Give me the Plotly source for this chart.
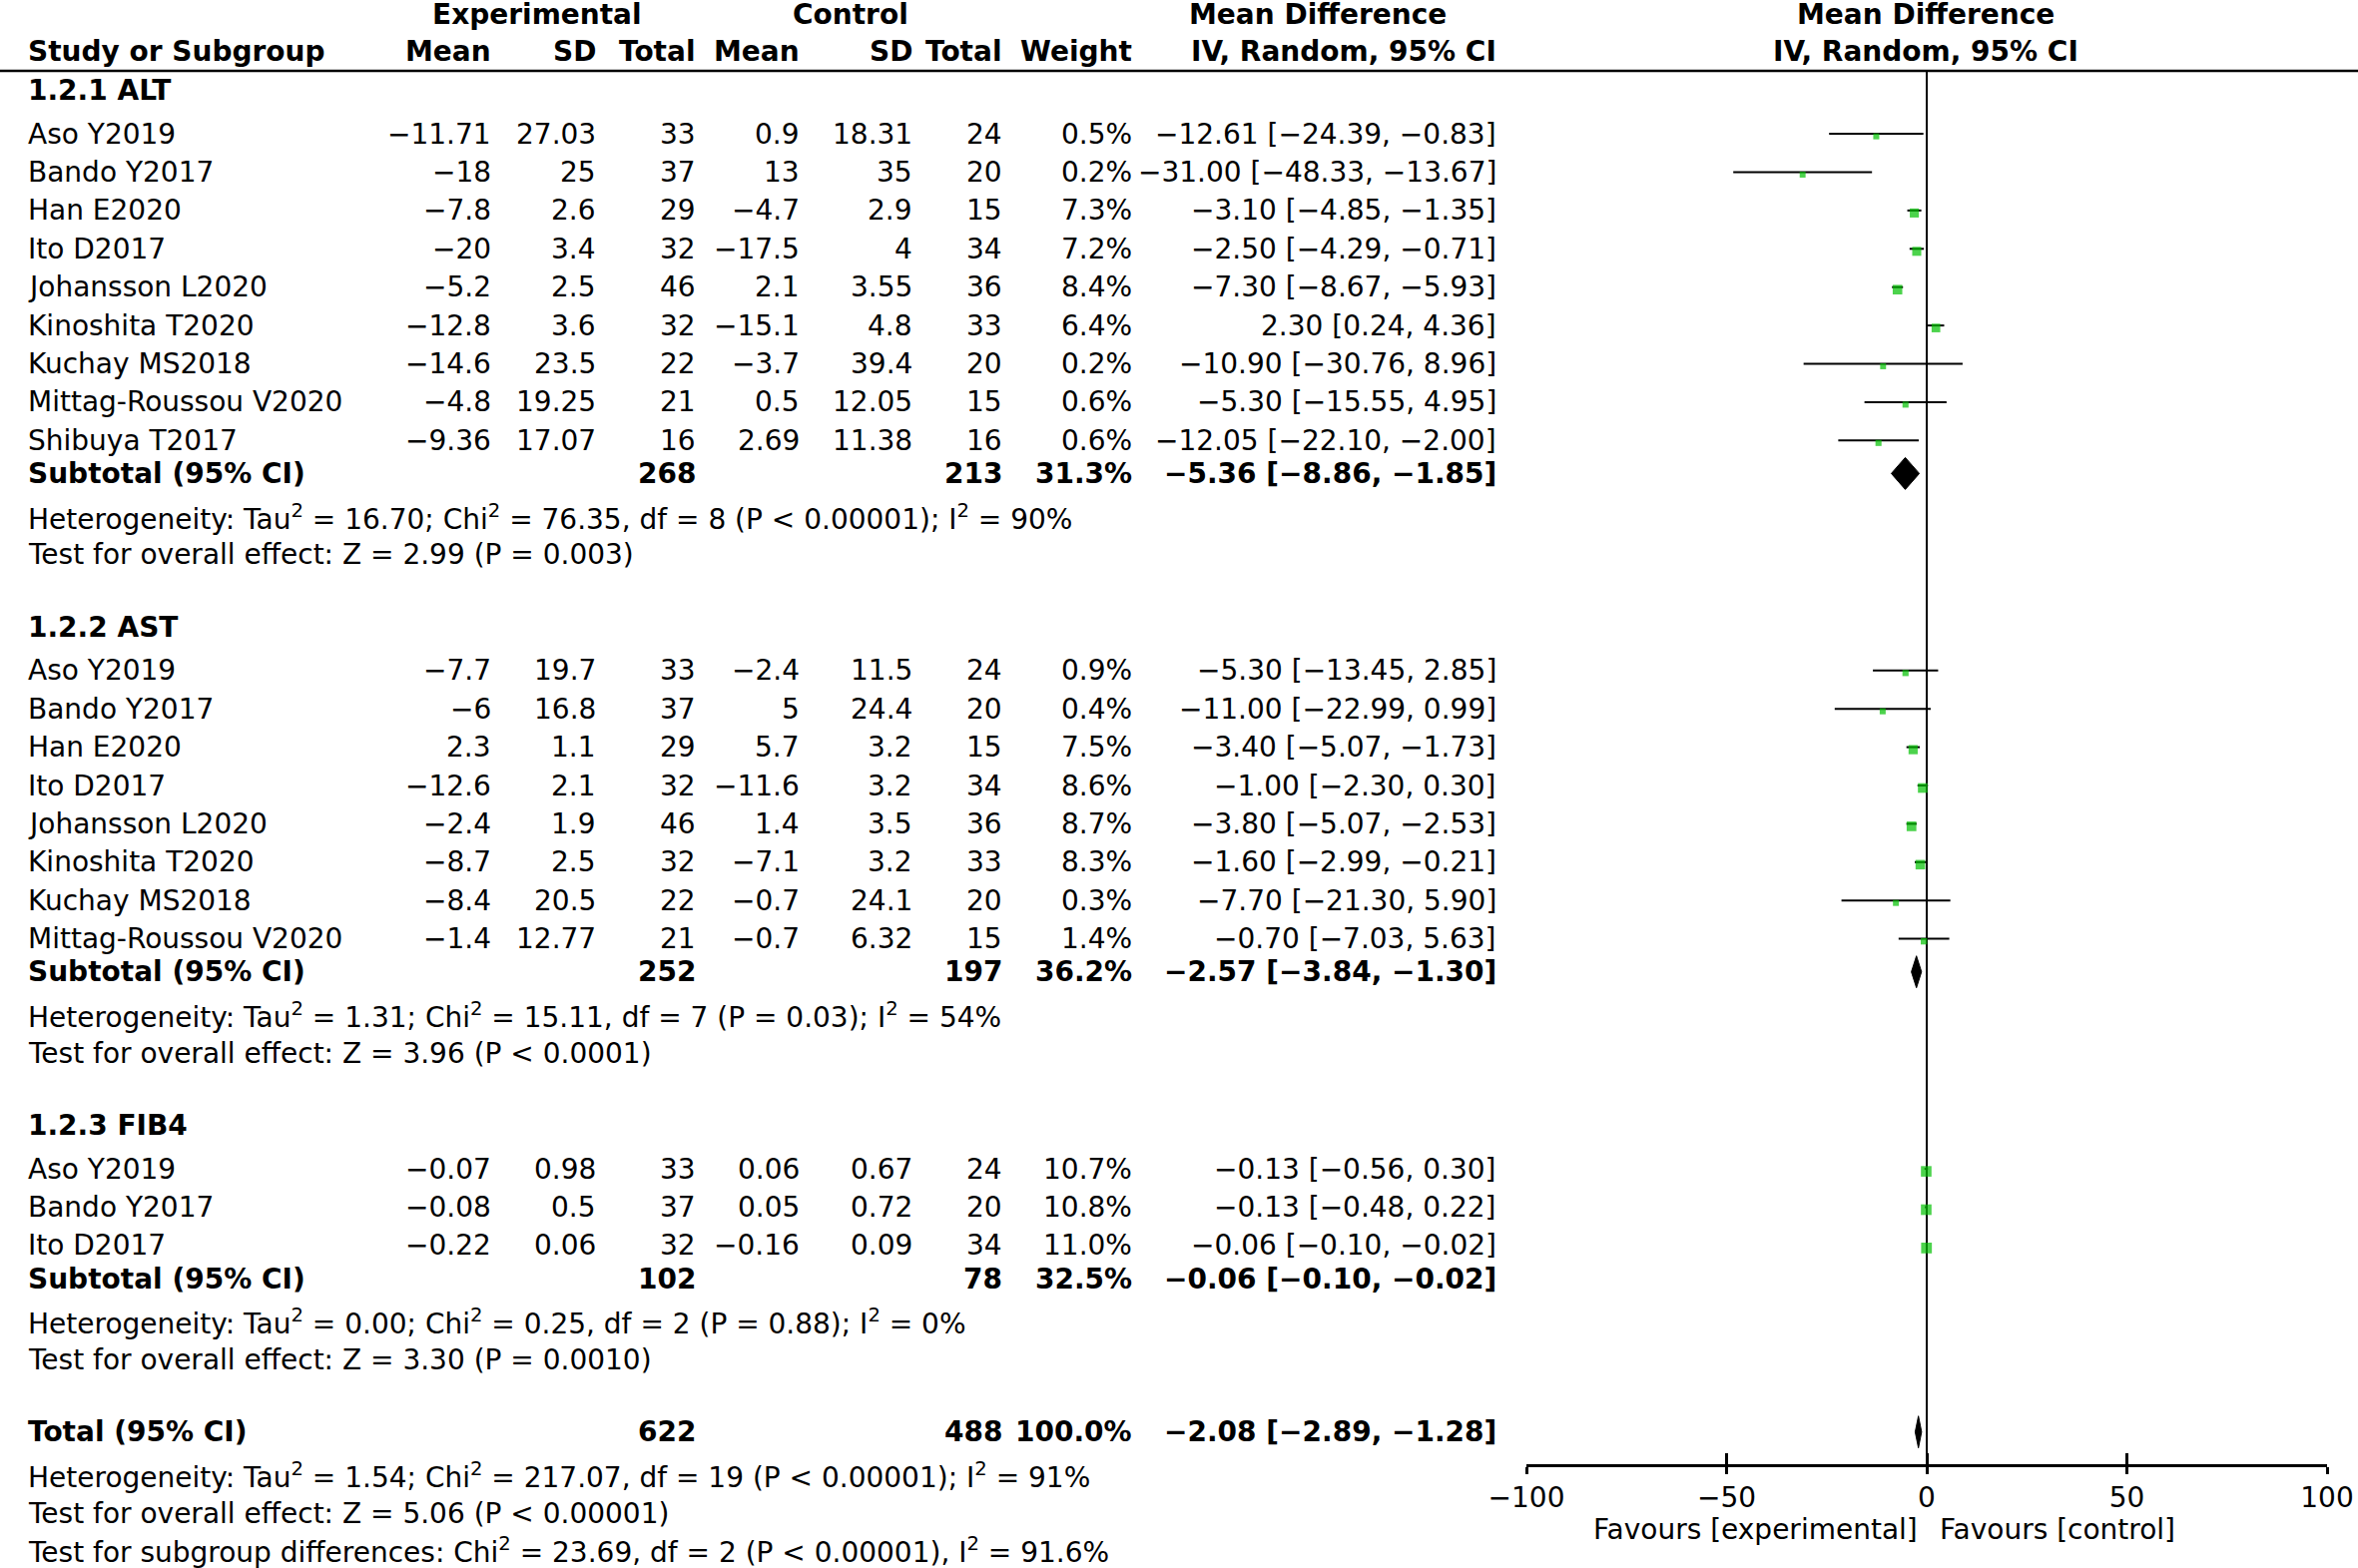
import plotly.graph_objects as go

# ---------------- data ----------------
ALT_STUDY = ["Aso Y2019", "Bando Y2017", "Han E2020", "Ito D2017", "Johansson L2020",
             "Kinoshita T2020", "Kuchay MS2018", "Mittag-Roussou V2020", "Shibuya T2017"]
ALT_EXP_MEAN = [-11.71, -18, -7.8, -20, -5.2, -12.8, -14.6, -4.8, -9.36]
ALT_EXP_SD = [27.03, 25, 2.6, 3.4, 2.5, 3.6, 23.5, 19.25, 17.07]
ALT_EXP_N = [33, 37, 29, 32, 46, 32, 22, 21, 16]
ALT_CTL_MEAN = [0.9, 13, -4.7, -17.5, 2.1, -15.1, -3.7, 0.5, 2.69]
ALT_CTL_SD = [18.31, 35, 2.9, 4, 3.55, 4.8, 39.4, 12.05, 11.38]
ALT_CTL_N = [24, 20, 15, 34, 36, 33, 20, 15, 16]
ALT_WEIGHT = [0.5, 0.2, 7.3, 7.2, 8.4, 6.4, 0.2, 0.6, 0.6]
ALT_MD = [-12.61, -31.00, -3.10, -2.50, -7.30, 2.30, -10.90, -5.30, -12.05]
ALT_LO = [-24.39, -48.33, -4.85, -4.29, -8.67, 0.24, -30.76, -15.55, -22.10]
ALT_HI = [-0.83, -13.67, -1.35, -0.71, -5.93, 4.36, 8.96, 4.95, -2.00]
ALT_SUB = [268, 213, 31.3, -5.36, -8.86, -1.85]
ALT_HET = "Heterogeneity: Tau<sup>2</sup> = 16.70; Chi<sup>2</sup> = 76.35, df = 8 (P < 0.00001); I<sup>2</sup> = 90%"
ALT_TEST = "Test for overall effect: Z = 2.99 (P = 0.003)"

AST_STUDY = ["Aso Y2019", "Bando Y2017", "Han E2020", "Ito D2017", "Johansson L2020",
             "Kinoshita T2020", "Kuchay MS2018", "Mittag-Roussou V2020"]
AST_EXP_MEAN = [-7.7, -6, 2.3, -12.6, -2.4, -8.7, -8.4, -1.4]
AST_EXP_SD = [19.7, 16.8, 1.1, 2.1, 1.9, 2.5, 20.5, 12.77]
AST_EXP_N = [33, 37, 29, 32, 46, 32, 22, 21]
AST_CTL_MEAN = [-2.4, 5, 5.7, -11.6, 1.4, -7.1, -0.7, -0.7]
AST_CTL_SD = [11.5, 24.4, 3.2, 3.2, 3.5, 3.2, 24.1, 6.32]
AST_CTL_N = [24, 20, 15, 34, 36, 33, 20, 15]
AST_WEIGHT = [0.9, 0.4, 7.5, 8.6, 8.7, 8.3, 0.3, 1.4]
AST_MD = [-5.30, -11.00, -3.40, -1.00, -3.80, -1.60, -7.70, -0.70]
AST_LO = [-13.45, -22.99, -5.07, -2.30, -5.07, -2.99, -21.30, -7.03]
AST_HI = [2.85, 0.99, -1.73, 0.30, -2.53, -0.21, 5.90, 5.63]
AST_SUB = [252, 197, 36.2, -2.57, -3.84, -1.30]
AST_HET = "Heterogeneity: Tau<sup>2</sup> = 1.31; Chi<sup>2</sup> = 15.11, df = 7 (P = 0.03); I<sup>2</sup> = 54%"
AST_TEST = "Test for overall effect: Z = 3.96 (P < 0.0001)"

FIB_STUDY = ["Aso Y2019", "Bando Y2017", "Ito D2017"]
FIB_EXP_MEAN = [-0.07, -0.08, -0.22]
FIB_EXP_SD = [0.98, 0.5, 0.06]
FIB_EXP_N = [33, 37, 32]
FIB_CTL_MEAN = [0.06, 0.05, -0.16]
FIB_CTL_SD = [0.67, 0.72, 0.09]
FIB_CTL_N = [24, 20, 34]
FIB_WEIGHT = [10.7, 10.8, 11.0]
FIB_MD = [-0.13, -0.13, -0.06]
FIB_LO = [-0.56, -0.48, -0.10]
FIB_HI = [0.30, 0.22, -0.02]
FIB_SUB = [102, 78, 32.5, -0.06, -0.10, -0.02]
FIB_HET = "Heterogeneity: Tau<sup>2</sup> = 0.00; Chi<sup>2</sup> = 0.25, df = 2 (P = 0.88); I<sup>2</sup> = 0%"
FIB_TEST = "Test for overall effect: Z = 3.30 (P = 0.0010)"

TOTAL = [622, 488, 100.0, -2.08, -2.89, -1.28]
TOTAL_NOTES = [
    "Heterogeneity: Tau<sup>2</sup> = 1.54; Chi<sup>2</sup> = 217.07, df = 19 (P < 0.00001); I<sup>2</sup> = 91%",
    "Test for overall effect: Z = 5.06 (P < 0.00001)",
    "Test for subgroup differences: Chi<sup>2</sup> = 23.69, df = 2 (P < 0.00001), I<sup>2</sup> = 91.6%",
]
TICKS = [-100, -50, 0, 50, 100]

groups = [
    ("1.2.1 ALT", ALT_STUDY, ALT_EXP_MEAN, ALT_EXP_SD, ALT_EXP_N, ALT_CTL_MEAN, ALT_CTL_SD,
     ALT_CTL_N, ALT_WEIGHT, ALT_MD, ALT_LO, ALT_HI, ALT_SUB, ALT_HET, ALT_TEST),
    ("1.2.2 AST", AST_STUDY, AST_EXP_MEAN, AST_EXP_SD, AST_EXP_N, AST_CTL_MEAN, AST_CTL_SD,
     AST_CTL_N, AST_WEIGHT, AST_MD, AST_LO, AST_HI, AST_SUB, AST_HET, AST_TEST),
    ("1.2.3 FIB4", FIB_STUDY, FIB_EXP_MEAN, FIB_EXP_SD, FIB_EXP_N, FIB_CTL_MEAN, FIB_CTL_SD,
     FIB_CTL_N, FIB_WEIGHT, FIB_MD, FIB_LO, FIB_HI, FIB_SUB, FIB_HET, FIB_TEST),
]

# ---------------- layout constants (pixels) ----------------
W, H = 2362, 1571
FONT = "DejaVu Sans"
FS = 28
# right edges of the table columns
C_STUDY, C_EMEAN, C_ESD, C_EN = 26, 494, 599, 699
C_CMEAN, C_CSD, C_CN, C_W, C_CI = 803, 916, 1006, 1136, 1501
ROW = 38.4
AXIS_Y = 1468
RULE_Y = 71


def num(v):
    return str(v).replace("-", "\u2212")


def ci(md, lo, hi):
    return num("{:.2f} [{:.2f}, {:.2f}]".format(md, lo, hi))


ann = []


def cell(x, y, text, anchor="right", bold=False):
    if bold:
        text = "<b>" + text + "</b>"
    ann.append(dict(x=x / W, y=y, xref="paper", yref="y", text=text, showarrow=False,
                    xanchor=anchor, yanchor="middle", font=dict(family=FONT, size=FS, color="black")))


# header
cell(538, 14, "Experimental", "center", True)
cell(852, 14, "Control", "center", True)
cell(1320, 14, "Mean Difference", "center", True)
cell(1929, 14, "Mean Difference", "center", True)
cell(C_STUDY, 51, "Study or Subgroup", "left", True)
for x, t in [(C_EMEAN, "Mean"), (C_ESD, "SD"), (C_EN, "Total"), (C_CMEAN, "Mean"),
             (C_CSD, "SD"), (C_CN, "Total"), (C_W, "Weight"), (C_CI, "IV, Random, 95% CI")]:
    cell(x, 51, t, "right", True)
cell(1929, 51, "IV, Random, 95% CI", "center", True)

ci_x, ci_y = [], []
sq_x, sq_y, sq_s = [], [], []
diamonds = []

y = 90.4
for (title, study, em, esd, en, cm, csd, cn, wt, md, lo, hi, sub, het, test) in groups:
    cell(C_STUDY, y, title, "left", True)
    y += 43.7
    for i in range(len(study)):
        cell(C_STUDY, y, study[i], "left")
        cell(C_EMEAN, y, num(em[i]))
        cell(C_ESD, y, num(esd[i]))
        cell(C_EN, y, num(en[i]))
        cell(C_CMEAN, y, num(cm[i]))
        cell(C_CSD, y, num(csd[i]))
        cell(C_CN, y, num(cn[i]))
        cell(C_W, y, "{:.1f}%".format(wt[i]))
        cell(C_CI, y, ci(md[i], lo[i], hi[i]))
        ci_x += [lo[i], hi[i], None]
        ci_y += [y, y, None]
        sq_x.append(md[i])
        sq_y.append(y + 2.5)
        sq_s.append(5.8 + 0.45 * wt[i])
        if i < len(study) - 1:
            y += ROW
    y += 33.1
    cell(C_STUDY, y, "Subtotal (95% CI)", "left", True)
    cell(C_EN, y, str(sub[0]), "right", True)
    cell(C_CN, y, str(sub[1]), "right", True)
    cell(C_W, y, "{:.1f}%".format(sub[2]), "right", True)
    cell(C_CI, y, ci(sub[3], sub[4], sub[5]), "right", True)
    diamonds.append((sub[3], sub[4], sub[5], y))
    y += 43.7
    cell(C_STUDY, y, het, "left")
    y += 37.7
    cell(C_STUDY, y, test, "left")
    y += 72.3

cell(C_STUDY, y, "Total (95% CI)", "left", True)
cell(C_EN, y, str(TOTAL[0]), "right", True)
cell(C_CN, y, str(TOTAL[1]), "right", True)
cell(C_W, y, "{:.1f}%".format(TOTAL[2]), "right", True)
cell(C_CI, y, ci(TOTAL[3], TOTAL[4], TOTAL[5]), "right", True)
diamonds.append((TOTAL[3], TOTAL[4], TOTAL[5], y))
y += 43.7
for note in TOTAL_NOTES:
    cell(C_STUDY, y, note, "left")
    y += 37.7

# axis captions under the forest plot, placed on either side of the null line
ann.append(dict(x=0, y=1532, xref="x", yref="y", text="Favours [experimental]", showarrow=False,
                xanchor="right", yanchor="middle", xshift=-7, font=dict(family=FONT, size=FS, color="black")))
ann.append(dict(x=0, y=1532, xref="x", yref="y", text="Favours [control]", showarrow=False,
                xanchor="left", yanchor="middle", xshift=11, font=dict(family=FONT, size=FS, color="black")))

dom = [1529 / W, 2331 / W]
pos = 1 - AXIS_Y / H

layout = go.Layout(
    width=W, height=H, margin=dict(l=0, r=0, t=0, b=0, pad=0, autoexpand=False),
    paper_bgcolor="white", plot_bgcolor="white", showlegend=False,
    annotations=ann,
    shapes=[
        dict(type="line", xref="paper", yref="y", x0=0, x1=1, y0=RULE_Y, y1=RULE_Y,
             line=dict(color="black", width=2.5)),
        dict(type="line", xref="x", yref="y", x0=0, x1=0, y0=RULE_Y, y1=AXIS_Y,
             line=dict(color="black", width=2), layer="below"),
    ],
    xaxis=dict(domain=dom, range=[-100, 100], anchor="free", position=pos, showline=True,
               linecolor="black", linewidth=2.5, ticks="outside", ticklen=7, tickwidth=2.5,
               tickcolor="black", tickvals=TICKS, showgrid=False, zeroline=False, automargin=False,
               tickfont=dict(family=FONT, size=FS, color="black")),
    xaxis2=dict(domain=dom, range=[-100, 100], anchor="free", position=pos, overlaying="x",
                ticks="inside", ticklen=12, tickwidth=2.5, tickcolor="black", tickvals=TICKS,
                showticklabels=False, showline=False, showgrid=False, zeroline=False, automargin=False),
    yaxis=dict(domain=[0, 1], range=[H, 0], visible=False, showgrid=False, zeroline=False,
               automargin=False),
)

fig = go.Figure(layout=layout)
fig.add_trace(go.Scatter(x=ci_x, y=ci_y, mode="lines", line=dict(color="black", width=2),
                         hoverinfo="skip"))
fig.add_trace(go.Scatter(x=sq_x, y=sq_y, mode="markers",
                         marker=dict(symbol="square", size=sq_s, color="#00C000", line=dict(width=0))))
for md, lo, hi, yy in diamonds:
    fig.add_trace(go.Scatter(x=[lo, md, hi, md, lo], y=[yy, yy - 16, yy, yy + 16, yy],
                             mode="lines", fill="toself", fillcolor="black",
                             line=dict(color="black", width=1)))
fig.add_trace(go.Scatter(x=[0], y=[AXIS_Y], xaxis="x2", mode="markers",
                         marker=dict(opacity=0), hoverinfo="skip"))

# page body has a default 8px margin; remove it so the figure fills the window exactly
fig.write_html("out.html", config={"displayModeBar": False},
               post_script="document.body.style.margin = '0px';")
